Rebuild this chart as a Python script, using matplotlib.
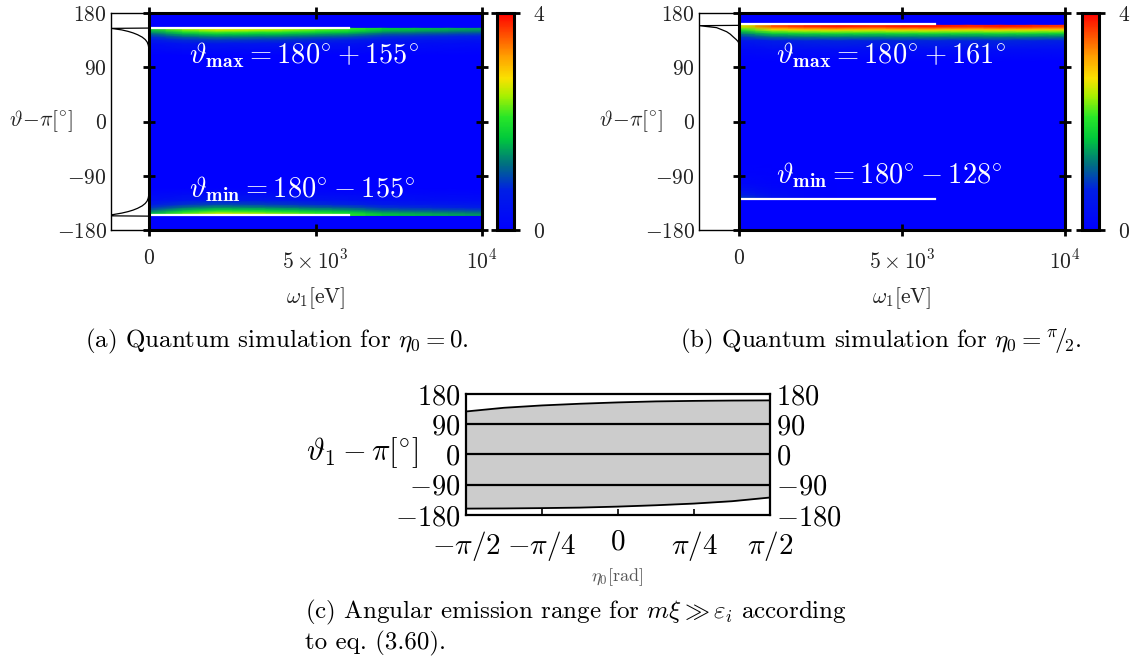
import numpy as np
import matplotlib
matplotlib.use('Agg')
import matplotlib.pyplot as plt
from matplotlib.colors import LinearSegmentedColormap, Normalize
from matplotlib.cm import ScalarMappable

plt.rcParams['font.family'] = 'serif'
plt.rcParams['font.serif'] = ['cmr10']
plt.rcParams['mathtext.fontset'] = 'cm'
plt.rcParams['axes.unicode_minus'] = False
plt.rcParams['axes.formatter.use_mathtext'] = True

W, H = 1139, 661
fig = plt.figure(figsize=(W / 100, H / 100), dpi=100)


def rect(x0, y0, x1, y1):
    return [x0 / W, 1 - y1 / H, (x1 - x0) / W, (y1 - y0) / H]


# ---------------- data ----------------
theta_ticks = [-180, -90, 0, 90, 180]
theta_ticklabels = ['$-180$', '$-90$', '$0$', '$90$', '$180$']
omega_ticks = [0, 5000, 10000]
omega_ticklabels = ['$0$', r'$5\times10^3$', r'$10^4$']
cbar_ticks = [0, 4]

omega_knots = [0, 1000, 2000, 3000, 4000, 5000, 6000, 7000, 8000, 9000, 10000]
# peak intensity of the emission band at the angular edge, along omega
band_a_top = [1.7, 2.4, 2.7, 2.6, 2.5, 2.3, 2.1, 1.7, 1.6, 1.5, 1.4]
band_a_bottom = [1.7, 2.4, 2.8, 2.7, 2.5, 2.3, 2.1, 1.7, 1.6, 1.5, 1.4]
band_b_top = [2.6, 3.6, 3.8, 3.9, 3.8, 3.9, 3.9, 3.8, 3.9, 3.8, 3.7]
band_b_bottom = [0.9, 0.4, 0.15, 0, 0, 0, 0, 0, 0, 0, 0]
# relative intensity versus angular distance (deg) inward from the edge
offset_a = [0, 1, 2.5, 4, 6, 9, 13, 18, 25, 35, 45]
profile_a = [1.0, 1.0, 0.95, 0.9, 0.8, 0.65, 0.5, 0.35, 0.2, 0.1, 0.0]
offset_b = [0, 1, 2.5, 4, 6, 9, 13, 18, 25, 40, 60]
profile_b = [1.0, 1.0, 0.95, 0.9, 0.8, 0.65, 0.5, 0.35, 0.2, 0.08, 0.0]

edge_a = (154.5, -155.5)
edge_b = (159.5, -127.0)
theta_max_a, theta_min_a = 155, -155
theta_max_b, theta_min_b = 161, -128
line_end = 6000

# angular distributions (marginals), normalised
marg_theta_a = [-180, -157, -156.5, -155, -152, -149.5, -147, -144, -140, -136, -132, -127, -120,
                120, 127, 132, 136, 140, 144, 147, 149.5, 152, 154.5, 155, 180]
marg_int_a = [0, 0, 1.0, 1.0, 0.72, 0.55, 0.42, 0.3, 0.18, 0.1, 0.05, 0.02, 0,
              0, 0.02, 0.05, 0.1, 0.18, 0.3, 0.42, 0.55, 0.72, 1.0, 0, 0]
marg_theta_b = [-180, -128, 128, 132.4, 136, 140.7, 145, 149, 152, 155.7, 159, 159.5, 180]
marg_int_b = [0, 0, 0, 0.02, 0.07, 0.15, 0.22, 0.31, 0.42, 0.56, 1.0, 0, 0]

eta0 = np.array([-4, -3, -2, -1, 0, 1, 2, 3, 4]) * np.pi / 8
upper_c = [128, 139, 146, 151, 155, 158, 159.5, 160.5, 161]
lower_c = [-161, -160.5, -159.5, -158, -155, -151, -146, -139, -128]
eta_ticks = np.array([-2, -1, 0, 1, 2]) * np.pi / 4
eta_ticklabels = [r'$-\pi/2$', r'$-\pi/4$', '$0$', r'$\pi/4$', r'$\pi/2$']

# ---------------- colormap ----------------
cmap = LinearSegmentedColormap.from_list('emission', [
    (0.0, (0 / 255, 0 / 255, 255 / 255)),
    (0.18, (0 / 255, 30 / 255, 230 / 255)),
    (0.30, (0 / 255, 110 / 255, 130 / 255)),
    (0.42, (0 / 255, 200 / 255, 60 / 255)),
    (0.52, (40 / 255, 230 / 255, 40 / 255)),
    (0.62, (170 / 255, 240 / 255, 0 / 255)),
    (0.70, (250 / 255, 225 / 255, 0 / 255)),
    (0.80, (255 / 255, 160 / 255, 0 / 255)),
    (0.90, (255 / 255, 80 / 255, 0 / 255)),
    (1.0, (255 / 255, 0 / 255, 0 / 255)),
])
norm = Normalize(vmin=0, vmax=4)

TICK_FS = 15.5
TXT = '#222222'


def draw_band(ax, edge, inward, band, offsets, profile):
    theta = edge + inward * np.asarray(offsets)
    Z = np.outer(profile, band)
    if inward < 0:
        theta, Z = theta[::-1], Z[::-1]
    ax.pcolormesh(omega_knots, theta, Z, shading='gouraud', cmap=cmap, norm=norm,
                  antialiased=False, rasterized=True)


def panel(x_marg, x_main0, x_main1, x_cb0, x_cb1, edges, bands, offsets, profile,
          marg_theta, marg_int, tmax, tmin, texts, ylabel_x, y0=13, y1=230):
    # marginal
    axm = fig.add_axes(rect(x_marg, y0, x_main0, y1))
    axm.plot(marg_int, marg_theta, color='black', lw=0.9)
    axm.set_xlim(1.0, 0.0)
    axm.set_ylim(-180, 180)
    axm.set_xticks([])
    axm.set_yticks(theta_ticks)
    axm.set_yticklabels(theta_ticklabels)
    axm.tick_params(axis='y', length=0, pad=3, labelsize=TICK_FS, labelcolor=TXT)
    for s in axm.spines.values():
        s.set_linewidth(1.0)

    # main heatmap
    ax = fig.add_axes(rect(x_main0, y0, x_main1, y1))
    ax.set_facecolor(cmap(0.0))
    draw_band(ax, edges[0], -1, bands[0], offsets, profile)
    draw_band(ax, edges[1], +1, bands[1], offsets, profile)
    ax.plot([0, line_end], [tmax, tmax], color='white', lw=1.6)
    ax.plot([0, line_end], [tmin, tmin], color='white', lw=1.6)
    ax.set_xlim(0, 10000)
    ax.set_ylim(-180, 180)
    ax.set_xticks(omega_ticks)
    ax.set_xticklabels(omega_ticklabels)
    ax.set_yticks(theta_ticks)
    ax.tick_params(which='both', direction='inout', length=9, width=2, top=True, right=True,
                   labelleft=False, labelsize=TICK_FS, pad=9, labelcolor=TXT)
    for s in ax.spines.values():
        s.set_linewidth(2.2)
    for (xv, yv, s) in texts:
        ax.text(xv, yv, s, color='white', fontsize=20.5, ha='left', va='baseline')

    # colorbar
    cax = fig.add_axes(rect(x_cb0, y0, x_cb1, y1))
    cb = fig.colorbar(ScalarMappable(norm=norm, cmap=cmap), cax=cax, ticks=cbar_ticks)
    cb.set_ticklabels(['$0$', '$4$'])
    cb.outline.set_linewidth(2.2)
    cax.tick_params(direction='out', length=4, width=2, left=True, right=True,
                    labelsize=TICK_FS, pad=10, labelcolor=TXT)

    # labels
    fig.text(ylabel_x / W, 1 - 121 / H, r'$\vartheta\!-\!\pi[^{\circ}]$', ha='center',
             va='center', fontsize=TICK_FS, color=TXT)
    fig.text((x_main0 + x_main1) / 2 / W, 1 - 298 / H, r'$\omega_1[\mathrm{eV}]$',
             ha='center', va='center', fontsize=TICK_FS, color=TXT)


panel(111, 149, 482, 497, 514, edge_a, (band_a_top, band_a_bottom), offset_a, profile_a,
      marg_theta_a, marg_int_a, theta_max_a, theta_min_a,
      [(1200, 97, r'$\vartheta_{\mathbf{max}} = 180^{\circ} + 155^{\circ}$'),
       (1200, -125, r'$\vartheta_{\mathbf{min}} = 180^{\circ} - 155^{\circ}$')], 41)

panel(699, 739, 1065, 1082, 1099, edge_b, (band_b_top, band_b_bottom), offset_b, profile_b,
      marg_theta_b, marg_int_b, theta_max_b, theta_min_b,
      [(1135, 97, r'$\vartheta_{\mathbf{max}} = 180^{\circ} + 161^{\circ}$'),
       (1135, -102, r'$\vartheta_{\mathbf{min}} = 180^{\circ} - 128^{\circ}$')], 631)

# captions (a), (b)
CAP_FS = 18
fig.text(277 / W, 1 - 341 / H, r'(a) Quantum simulation for $\eta_0 = 0$.', ha='center',
         va='center', fontsize=CAP_FS)
fig.text(881 / W, 1 - 341 / H, r'(b) Quantum simulation for $\eta_0 = {}^{\pi}\!/\!_{2}$.',
         ha='center', va='center', fontsize=CAP_FS)

# ---------------- panel (c) ----------------
axc = fig.add_axes(rect(466, 394, 770, 515))
axc.fill_between(eta0, lower_c, upper_c, color='#cccccc', lw=0)
axc.plot(eta0, upper_c, color='black', lw=1.3)
axc.plot(eta0, lower_c, color='black', lw=1.3)
for yv in (-90, 0, 90):
    axc.axhline(yv, color='black', lw=1.6)
axc.set_xlim(-np.pi / 2, np.pi / 2)
axc.set_ylim(-180, 180)
axc.set_xticks(eta_ticks)
axc.set_xticklabels(eta_ticklabels)
axc.set_yticks(theta_ticks)
axc.set_yticklabels(theta_ticklabels)
axc.tick_params(axis='x', direction='in', length=4, width=1.2, labelsize=21, pad=10)
axc.tick_params(axis='y', length=0, labelsize=20.5, pad=4, labelright=True)
for s in axc.spines.values():
    s.set_linewidth(1.6)
fig.text(362 / W, 1 - 453 / H, r'$\vartheta_1 - \pi[^{\circ}]$', ha='center', va='center',
         fontsize=22)
fig.text(617 / W, 1 - 577 / H, r'$\eta_0[\mathrm{rad}]$', ha='center', va='center',
         fontsize=13, color='#555555')
fig.text(305 / W, 1 - 612 / H, r'(c) Angular emission range for $m\xi \gg \varepsilon_i$ according',
         ha='left', va='center', fontsize=CAP_FS)
fig.text(305 / W, 1 - 643 / H, 'to eq. (3.60).', ha='left', va='center', fontsize=CAP_FS)

fig.savefig('out.png', dpi=100)
